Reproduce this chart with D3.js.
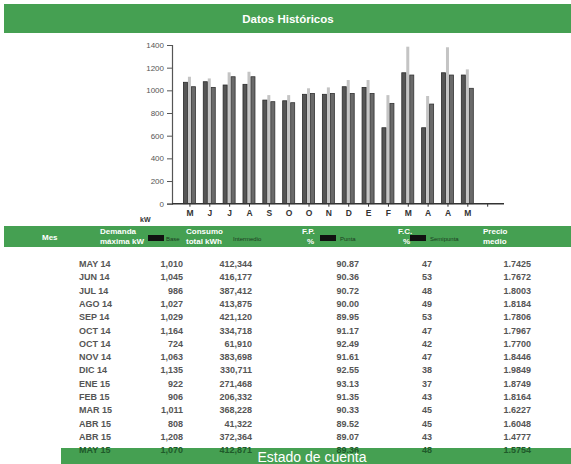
<!DOCTYPE html>
<html>
<head>
<meta charset="utf-8">
<script src="https://cdn.jsdelivr.net/npm/d3@7"></script>
<style>
  body { margin: 0; background: #fff; }
  svg { display: block; }
</style>
</head>
<body>
<div id="chart"></div>
<script>
// data
const months = ["M", "J", "J", "A", "S", "O", "O", "N", "D", "E", "F", "M", "A", "A", "M", ""];
const barA = [1071, 1076, 1047, 1053, 914, 908, 965, 965, 1032, 1026, 670, 1155, 670, 1155, 1135];
const barB = [1032, 1026, 1120, 1120, 900, 891, 973, 973, 973, 973, 885, 1135, 879, 1135, 1018];
const barLight = [1120, 1105, 1159, 1164, 958, 958, 1018, 1026, 1091, 1091, 958, 1385, 950, 1380, 1185];
const yTicks = [0, 200, 400, 600, 800, 1000, 1200, 1400];

const rowMes = ["MAY 14", "JUN 14", "JUL 14", "AGO 14", "SEP 14", "OCT 14", "OCT 14", "NOV 14",
  "DIC 14", "ENE 15", "FEB 15", "MAR 15", "ABR 15", "ABR 15", "MAY 15"];
const rowDemanda = ["1,010", "1,045", "986", "1,027", "1,029", "1,164", "724", "1,063",
  "1,135", "922", "906", "1,011", "808", "1,208", "1,070"];
const rowConsumo = ["412,344", "416,177", "387,412", "413,875", "421,120", "334,718", "61,910", "383,698",
  "330,711", "271,468", "206,332", "368,228", "41,322", "372,364", "412,871"];
const rowFP = ["90.87", "90.36", "90.72", "90.00", "89.95", "91.17", "92.49", "91.61",
  "92.55", "93.13", "91.35", "90.33", "89.52", "89.07", "89.36"];
const rowFC = ["47", "53", "48", "49", "53", "47", "42", "47", "38", "37", "43", "45", "45", "43", "48"];
const rowPrecio = ["1.7425", "1.7672", "1.8003", "1.8184", "1.7806", "1.7967", "1.7700", "1.8446",
  "1.9849", "1.8749", "1.8164", "1.6227", "1.6048", "1.4777", "1.5754"];

const width = 571;
const height = 464;
const green = "#45a052";
const font = "'Liberation Sans', Arial, sans-serif";

const svg = d3.select("#chart").append("svg")
  .attr("width", width)
  .attr("height", height);

// top title band
svg.append("rect")
  .attr("x", 4).attr("y", 4)
  .attr("width", width - 4).attr("height", 29)
  .attr("fill", green);
svg.append("text")
  .attr("x", 288).attr("y", 23)
  .attr("text-anchor", "middle")
  .attr("fill", "#fff")
  .attr("font-family", font)
  .attr("font-weight", "bold")
  .attr("font-size", "11.5px")
  .text("Datos Históricos");

// chart scales
const x = d3.scaleBand()
  .domain(d3.range(months.length))
  .range([180, 497.6])
  .paddingInner(0)
  .paddingOuter(0);

const y = d3.scaleLinear()
  .domain([0, 1400])
  .range([203.7, 45]);

const cx = i => x(i) + x.bandwidth() / 2;
const bars = d3.range(barA.length);

// light thin bars behind
svg.append("g").selectAll("rect")
  .data(bars)
  .enter().append("rect")
  .attr("x", i => cx(i) - 2)
  .attr("y", i => y(barLight[i]))
  .attr("width", 3)
  .attr("height", i => y(0) - y(barLight[i]))
  .attr("fill", "#c4c4c4");

// first dark bar
svg.append("g").selectAll("rect")
  .data(bars)
  .enter().append("rect")
  .attr("x", i => cx(i) - 6.5)
  .attr("y", i => y(barA[i]))
  .attr("width", 4)
  .attr("height", i => y(0) - y(barA[i]))
  .attr("fill", "#555")
  .attr("stroke", "#2a2a2a")
  .attr("stroke-width", 0.8);

// second bar
svg.append("g").selectAll("rect")
  .data(bars)
  .enter().append("rect")
  .attr("x", i => cx(i) + 1.5)
  .attr("y", i => y(barB[i]))
  .attr("width", 4)
  .attr("height", i => y(0) - y(barB[i]))
  .attr("fill", "#6a6a6a")
  .attr("stroke", "#333")
  .attr("stroke-width", 0.8);

// y axis
const yAxis = svg.append("g")
  .attr("transform", "translate(172,0)")
  .call(d3.axisLeft(y).tickValues(yTicks).tickSize(5).tickPadding(3).tickFormat(d3.format("d")));
yAxis.select(".domain").attr("stroke", "#555").attr("stroke-width", 1.2);
yAxis.selectAll(".tick line").attr("stroke", "#555");
yAxis.selectAll("text")
  .attr("fill", "#555")
  .style("font-family", font)
  .style("font-size", "8px");

// x axis
const xAxis = svg.append("g")
  .attr("transform", `translate(0,${y(0)})`)
  .call(d3.axisBottom(x).tickSize(3).tickPadding(3).tickFormat(i => months[i]));
xAxis.select(".domain").remove();
xAxis.selectAll(".tick line").attr("stroke", "#333");
xAxis.selectAll("text")
  .attr("fill", "#333")
  .style("font-family", font)
  .style("font-weight", "bold")
  .style("font-size", "8.5px");
svg.append("line")
  .attr("x1", 172).attr("x2", 504)
  .attr("y1", y(0)).attr("y2", y(0))
  .attr("stroke", "#333")
  .attr("stroke-width", 1.5);

svg.append("text")
  .attr("x", 140).attr("y", 222)
  .attr("fill", "#333")
  .attr("font-family", font)
  .attr("font-weight", "bold")
  .attr("font-size", "7px")
  .text("kW");

// table header band
svg.append("rect")
  .attr("x", 4).attr("y", 226)
  .attr("width", width - 4).attr("height", 21)
  .attr("fill", green);

const headers = [
  { t: ["Mes"], x: 42 },
  { t: ["Demanda", "máxima kW"], x: 100 },
  { t: ["Consumo", "total kWh"], x: 186 },
  { t: ["F.P.", "%"], x: 302 },
  { t: ["F.C.", "%"], x: 398 },
  { t: ["Precio", "medio"], x: 483 }
];
headers.forEach(h => {
  h.t.forEach((line, k) => {
    svg.append("text")
      .attr("x", h.x + (line === "%" ? 5 : 0))
      .attr("y", h.t.length === 1 ? 240 : 234 + k * 10)
      .attr("fill", "#fff")
      .attr("font-family", font)
      .attr("font-weight", "bold")
      .attr("font-size", "8px")
      .text(line);
  });
});

// legend strip printed over the header band
const legend = [
  { label: "Base", sx: 148, tx: 166 },
  { label: "Intermedio", sx: null, tx: 233 },
  { label: "Punta", sx: 320, tx: 340 },
  { label: "Semipunta", sx: 410, tx: 430 }
];
legend.forEach(l => {
  if (l.sx !== null) {
    svg.append("rect")
      .attr("x", l.sx).attr("y", 235)
      .attr("width", 16).attr("height", 6)
      .attr("fill", "#111");
  }
  svg.append("text")
    .attr("x", l.tx).attr("y", 241)
    .attr("fill", "#1b3a1f")
    .attr("font-family", font)
    .attr("font-size", "6px")
    .text(l.label);
});

// table rows
const rowY = d3.scaleLinear().domain([0, 1]).range([267, 280.3]);
const cols = [
  { v: rowMes, x: 79, anchor: "start" },
  { v: rowDemanda, x: 183, anchor: "end" },
  { v: rowConsumo, x: 252, anchor: "end" },
  { v: rowFP, x: 359, anchor: "end" },
  { v: rowFC, x: 432, anchor: "end" },
  { v: rowPrecio, x: 531, anchor: "end" }
];

// bottom band goes under the last row
svg.append("rect")
  .attr("x", 61).attr("y", 448)
  .attr("width", width - 61).attr("height", 16)
  .attr("fill", green);

cols.forEach(c => {
  svg.append("g").selectAll("text")
    .data(c.v)
    .enter().append("text")
    .attr("x", c.x)
    .attr("y", (d, i) => rowY(i))
    .attr("text-anchor", c.anchor)
    .attr("fill", (d, i) => i === c.v.length - 1 ? "#1f5a2a" : "#555")
    .attr("font-family", font)
    .attr("font-weight", "bold")
    .attr("font-size", "9px")
    .text(d => d);
});

svg.append("text")
  .attr("x", 312).attr("y", 462)
  .attr("text-anchor", "middle")
  .attr("fill", "#fff")
  .attr("font-family", font)
  .attr("font-size", "14px")
  .text("Estado de cuenta");
</script>
</body>
</html>
